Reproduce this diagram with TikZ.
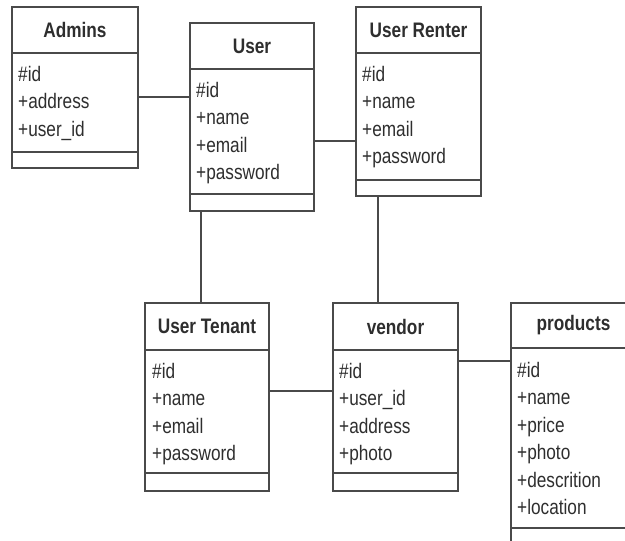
\documentclass[tikz,border=0pt]{standalone}
\usepackage{fontspec}
\setmainfont{Liberation Sans}[FakeStretch=0.82]
\begin{document}
\begin{tikzpicture}[x=1pt,y=-1pt,
  classbox/.style={draw=linegray, line width=1.7pt, rectangle, outer sep=0pt, inner sep=0pt, anchor=north west},
  sepline/.style={draw=linegray, line width=1.7pt},
  conn/.style={draw=linegray, line width=1.7pt},
  ttl/.style={font=\fontsize{21}{25}\selectfont\bfseries, text=txtgray, inner sep=0pt},
  attr/.style={font=\fontsize{21}{25}\selectfont, text=txtgray, inner sep=0pt, anchor=base west}]
\definecolor{linegray}{HTML}{4A4A4A}
\definecolor{txtgray}{HTML}{2E2E2E}
\useasboundingbox (0,0) rectangle (625,541);
\clip (0,0) rectangle (625,541);
% boxes
\node[classbox, minimum width=126, minimum height=161] (admins) at (12,7) {};
\node[classbox, minimum width=124, minimum height=188] (user) at (190,23) {};
\node[classbox, minimum width=125, minimum height=189] (renter) at (356,7) {};
\node[classbox, minimum width=124, minimum height=188] (tenant) at (145,303) {};
\node[classbox, minimum width=125, minimum height=188] (vendor) at (333,303) {};
\node[classbox, minimum width=125, minimum height=260] (products) at (511,303) {};
% separators
\foreach \b/\h/\s in {admins/53/152, user/69/194, renter/53/180, tenant/350/473, vendor/350/473, products/348/528}{
  \draw[sepline] (\b.west |- 0,\h) -- (\b.east |- 0,\h);
  \draw[sepline] (\b.west |- 0,\s) -- (\b.east |- 0,\s);
}
% titles
\node[ttl] (tadmins) at (75,30) {Admins};
\node[ttl] (tuser) at (252,46) {User};
\node[ttl] (trenter) at (418.5,30) {User Renter};
\node[ttl] (ttenant) at (207,326.5) {User Tenant};
\node[ttl] (tvendor) at (395.5,326.5) {vendor};
\node[ttl] (tproducts) at (573.5,325.5) {products};
% attributes
\node[attr] (a1) at (18,81) {\#id};
\node[attr] (a2) at (18,108.5) {+address};
\node[attr] (a3) at (18,136) {+user\_id};
\node[attr] (u1) at (196,97) {\#id};
\node[attr] (u2) at (196,124.5) {+name};
\node[attr] (u3) at (196,152) {+email};
\node[attr] (u4) at (196,179.5) {+password};
\node[attr] (r1) at (362,81) {\#id};
\node[attr] (r2) at (362,108.5) {+name};
\node[attr] (r3) at (362,136) {+email};
\node[attr] (r4) at (362,163.5) {+password};
\node[attr] (t1) at (152,378) {\#id};
\node[attr] (t2) at (152,405.5) {+name};
\node[attr] (t3) at (152,433) {+email};
\node[attr] (t4) at (152,460.5) {+password};
\node[attr] (v1) at (339,378) {\#id};
\node[attr] (v2) at (339,405.5) {+user\_id};
\node[attr] (v3) at (339,433) {+address};
\node[attr] (v4) at (339,460.5) {+photo};
\node[attr] (p1) at (517,377) {\#id};
\node[attr] (p2) at (517,404.5) {+name};
\node[attr] (p3) at (517,432) {+price};
\node[attr] (p4) at (517,459.5) {+photo};
\node[attr] (p5) at (517,487) {+descrition};
\node[attr] (p6) at (517,514.5) {+location};
% connectors
\draw[conn] (admins.east |- 0,97) -- (user.west |- 0,97);
\draw[conn] (user.east |- 0,141) -- (renter.west |- 0,141);
\draw[conn] (user.south -| 201,0) -- (tenant.north -| 201,0);
\draw[conn] (renter.south -| 378,0) -- (vendor.north -| 378,0);
\draw[conn] (tenant.east |- 0,391) -- (vendor.west |- 0,391);
\draw[conn] (vendor.east |- 0,361) -- (products.west |- 0,361);
\end{tikzpicture}
\end{document}
